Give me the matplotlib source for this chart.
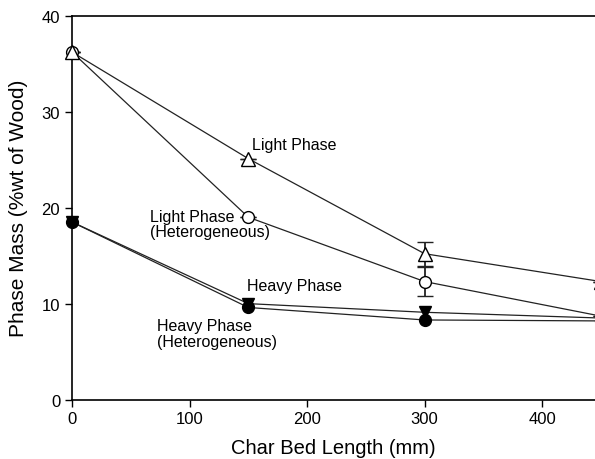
import matplotlib
matplotlib.use("Agg")
import matplotlib.pyplot as plt

plt.rcParams['font.family'] = ['Liberation Sans', 'DejaVu Sans']

# char bed length (mm)
bed_len = [0, 150, 300, 450]

light = [36.2, 25.1, 15.2, 12.3]
light_het = [36.2, 19.0, 12.3, 8.7]
heavy = [18.5, 10.0, 9.1, 8.5]
heavy_het = [18.5, 9.6, 8.3, 8.2]

# error bars only at 300 mm
light_err = [0, 0, 1.25, 0]
light_het_err = [0, 0, 1.5, 0]

fig = plt.figure(figsize=(5.95, 4.6), dpi=100)
ax = fig.add_axes([0.121, 0.129, 0.879, 0.835])

lc = '#222222'
for y, err, m in [(light_het, light_het_err, 'o'), (light, light_err, '^')]:
    parts = ax.errorbar(bed_len, y, yerr=err, color=lc, lw=0.9,
                        marker=m, ms=8.5 if m == 'o' else 9.5, mfc='white',
                        mec='black', mew=1.0, capsize=6, elinewidth=1.3,
                        capthick=1.3, zorder=3)
    parts[0].set_clip_on(False)
for y, m in [(heavy, 'v'), (heavy_het, 'o')]:
    ax.plot(bed_len, y, color=lc, lw=0.9, marker=m, ms=8.5,
            mfc='black', mec='black', zorder=3, clip_on=False)

fs = 11.5
ax.text(153, 26.6, 'Light Phase', fontsize=fs, va='center')
ax.text(66, 18.3, 'Light Phase\n(Heterogeneous)', fontsize=fs, va='center',
        linespacing=1.05)
ax.text(149, 11.9, 'Heavy Phase', fontsize=fs, va='center')
ax.text(72, 6.9, 'Heavy Phase\n(Heterogeneous)', fontsize=fs, va='center',
        linespacing=1.05)

ax.set_xlim(0, 445)
ax.set_ylim(0, 40)
ax.set_xticks([0, 100, 200, 300, 400])
ax.set_yticks([0, 10, 20, 30, 40])
ax.tick_params(labelsize=12, length=5, width=1.0, direction='out')
ax.spines['right'].set_visible(False)
for s in ['left', 'bottom', 'top']:
    ax.spines[s].set_linewidth(1.2)

ax.set_xlabel('Char Bed Length (mm)', fontsize=14.5, labelpad=8)
ax.set_ylabel('Phase Mass (%wt of Wood)', fontsize=15, labelpad=10)

fig.savefig('out.png', dpi=100)
